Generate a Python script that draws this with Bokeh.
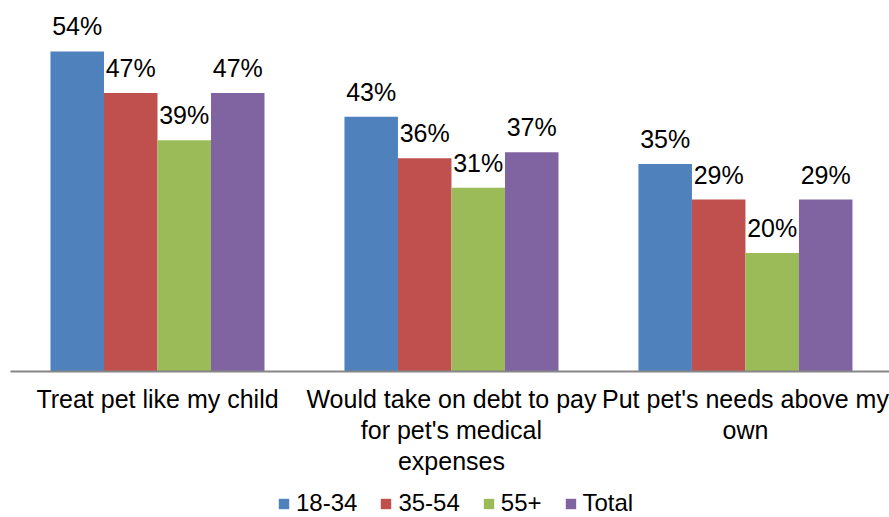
import numpy as np
from bokeh.plotting import figure
from bokeh.models import Range1d, ColumnDataSource, Legend, LegendItem
from bokeh.core.properties import value
from bokeh.embed import file_html
from bokeh.resources import INLINE

categories = ["Treat pet like my child",
              "Would take on debt to pay\nfor pet's medical\nexpenses",
              "Put pet's needs above my\nown"]
series_names = ["18-34", "35-54", "55+", "Total"]
v_18_34 = [54, 43, 35]
v_35_54 = [47, 36, 29]
v_55 = [39, 31, 20]
v_total = [47, 37, 29]
series_values = [v_18_34, v_35_54, v_55, v_total]
colors = ["#4F81BD", "#C0504D", "#9BBB59", "#8064A2"]

FONT = "Liberation Sans"
FS = "25px"
bar_w = 0.182
centers = np.arange(len(categories)) + 0.5

# The frame covers the whole canvas; the category labels and legend live
# in the lower part of the value range (below zero).
p = figure(frame_width=889, frame_height=517, output_backend="svg", toolbar_location=None,
           x_range=Range1d(-0.034, 2.99), y_range=Range1d(-24.64, 62.6),
           x_axis_location=None, y_axis_location=None,
           min_border_left=0, min_border_right=0, min_border_top=0, min_border_bottom=0)
p.outline_line_color = None
p.xgrid.visible = False
p.ygrid.visible = False

items = []
for i, (name, vals, col) in enumerate(zip(series_names, series_values, colors)):
    xs = centers + (i - 1.5) * bar_w
    src = ColumnDataSource(dict(x=xs, top=vals, label=[f"{v}%" for v in vals]))
    r = p.vbar(x="x", top="top", width=bar_w, bottom=0, source=src,
               fill_color=col, line_color=None)
    p.text(x="x", y="top", text="label", source=src, text_align="center",
           text_baseline="alphabetic", y_offset=-25, text_font=value(FONT),
           text_font_size=FS, text_color="#000000")
    items.append(LegendItem(label=name, renderers=[r]))

# category axis line and labels
p.segment(x0=[0], x1=[len(categories)], y0=[0], y1=[0], line_color="#868686", line_width=2)
p.text(x=centers, y=[0] * len(categories), text=categories, text_align="center",
       text_baseline="top", y_offset=14, text_font=value(FONT), text_font_size=FS,
       text_color="#000000", text_line_height=1.1)

legend = Legend(items=items, orientation="horizontal", location=(277, 0),
                label_text_font=FONT, label_text_font_size="24px",
                label_text_color="#000000", glyph_width=13, glyph_height=13,
                label_standoff=6, spacing=22, padding=0, margin=0,
                border_line_color=None, background_fill_alpha=0)
p.add_layout(legend, "center")

open("out.html", "w").write(file_html(p, INLINE))
